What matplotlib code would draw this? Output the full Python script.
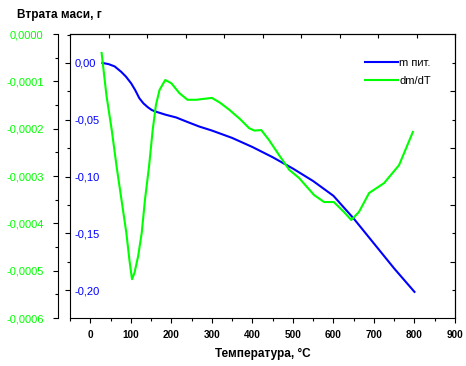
import matplotlib.pyplot as plt
from matplotlib.ticker import MultipleLocator, FuncFormatter
from matplotlib.lines import Line2D

plt.rcParams['font.family'] = ['Liberation Sans', 'DejaVu Sans']

# маса (синя крива, ліва внутрішня шкала)
temp_m = [30, 45, 60, 76, 88, 101, 111, 121, 131, 142, 152, 163, 185, 212,
          240, 269, 300, 350, 400, 450, 500, 550, 600, 650, 700, 750, 800]
mass = [0.0, -0.001, -0.003, -0.0077, -0.012, -0.018, -0.024, -0.031,
        -0.0355, -0.039, -0.0415, -0.043, -0.0455, -0.048, -0.052, -0.056,
        -0.0595, -0.066, -0.074, -0.083, -0.093, -0.104, -0.117, -0.137,
        -0.159, -0.181, -0.2016]

# похідна dm/dT (зелена крива, зовнішня шкала)
temp_d = [28, 40, 53, 65, 77, 89, 97, 103, 109, 118, 127, 135, 145, 154,
          162, 171, 185, 200, 220, 240, 261, 300, 320, 343, 370, 392, 405,
          422, 441, 466, 491, 515, 552, 577, 601, 626, 644, 663, 688, 725,
          762, 796]
dmdt = [-0.00004, -0.00013, -0.000203, -0.00028, -0.00035, -0.00042,
        -0.00048, -0.000518, -0.000505, -0.00047, -0.00042, -0.00035,
        -0.00028, -0.000203, -0.00015, -0.000118, -0.0000972, -0.000104,
        -0.000125, -0.000139, -0.000139, -0.000135, -0.000145, -0.00016,
        -0.00018, -0.000199, -0.000204, -0.000203, -0.000224, -0.000256,
        -0.000287, -0.000304, -0.00034, -0.000355, -0.000355, -0.000376,
        -0.000393, -0.000376, -0.000336, -0.000315, -0.000277, -0.000207]

xticks = [0, 100, 200, 300, 400, 500, 600, 700, 800, 900]

fig = plt.figure(figsize=(4.66, 3.66), dpi=100)
ax = fig.add_axes([70/466, 1-318/366, 385/466, 284/366])
ax2 = ax.twinx()

ax.plot(temp_m, mass, color='#0000ff', lw=1.5)
ax2.plot(temp_d, dmdt, color='#00ff00', lw=1.5)

ax.set_xlim(-50, 900)
ax.set_ylim(-0.2246, 0.0255)
ax2.set_ylim(-0.0006, 0)

# x axis
ax.set_xticks(xticks)
ax.xaxis.set_minor_locator(MultipleLocator(50))
ax.tick_params(axis='x', which='major', direction='out', length=3.5, width=0.8,
               labelsize=7.2, pad=5)
ax.tick_params(axis='x', which='minor', direction='out', length=2, width=0.8)
for t in ax.get_xticklabels():
    t.set_fontweight('bold')
ax.set_xlabel('Температура, °С', fontsize=8.5, fontweight='bold', labelpad=6)

# blue inner y axis, labels inside the frame
ax.yaxis.set_major_locator(MultipleLocator(0.05))
ax.yaxis.set_minor_locator(MultipleLocator(0.025))
ax.yaxis.set_major_formatter(FuncFormatter(
    lambda v, p: ('%.2f' % (0.0 if abs(v) < 1e-9 else v)).replace('.', ',')))
ax.tick_params(axis='y', which='major', direction='out', length=3.5, width=0.8,
               labelsize=8, labelcolor='#0000ff', pad=-6.5)
ax.tick_params(axis='y', which='minor', direction='out', length=2.2, width=0.8)
for t in ax.get_yticklabels():
    t.set_horizontalalignment('left')

# green outer axis on the left
ax2.yaxis.set_ticks_position('left')
ax2.yaxis.set_label_position('left')
ax2.spines['left'].set_position(('outward', 8.4))
ax2.spines['left'].set_visible(True)
for s in ['right', 'top', 'bottom']:
    ax2.spines[s].set_visible(False)
ax2.yaxis.set_major_locator(MultipleLocator(0.0001))
ax2.yaxis.set_minor_locator(MultipleLocator(0.00005))
ax2.yaxis.set_major_formatter(FuncFormatter(
    lambda v, p: ('%.4f' % (0.0 if abs(v) < 1e-12 else v)).replace('.', ',')))
ax2.tick_params(axis='y', which='major', direction='out', length=3.5, width=0.8,
                labelsize=8, labelcolor='#00ff00', pad=7)
ax2.tick_params(axis='y', which='minor', direction='out', length=2.2, width=0.8)

# tick marks on top and right frame
top = ax.secondary_xaxis('top')
top.set_xticks([-50 + 95 * k for k in range(11)])
top.tick_params(direction='in', length=3, width=0.8, labeltop=False)
right = ax.secondary_yaxis('right')
right.set_yticks([-0.025 - 0.05 * k for k in range(5)])
right.yaxis.set_minor_locator(MultipleLocator(0.05))
right.tick_params(which='major', direction='in', length=3.5, width=0.8, labelright=False)
right.tick_params(which='minor', direction='in', length=2, width=0.8)

fig.text(17/466, 1-15/366, 'Втрата маси, г', fontsize=8.5, fontweight='bold',
         va='center', ha='left')

handles = [Line2D([], [], color='#0000ff', lw=1.5), Line2D([], [], color='#00ff00', lw=1.5)]
ax2.legend(handles, ['m пит.', 'dm/dT'], frameon=False, fontsize=8,
           loc='upper left', bbox_to_anchor=(359/466, 1-52/366),
           bbox_transform=fig.transFigure, borderpad=0, handlelength=3,
           handletextpad=0.1, labelspacing=0.75)

fig.savefig('out.png', dpi=100)
